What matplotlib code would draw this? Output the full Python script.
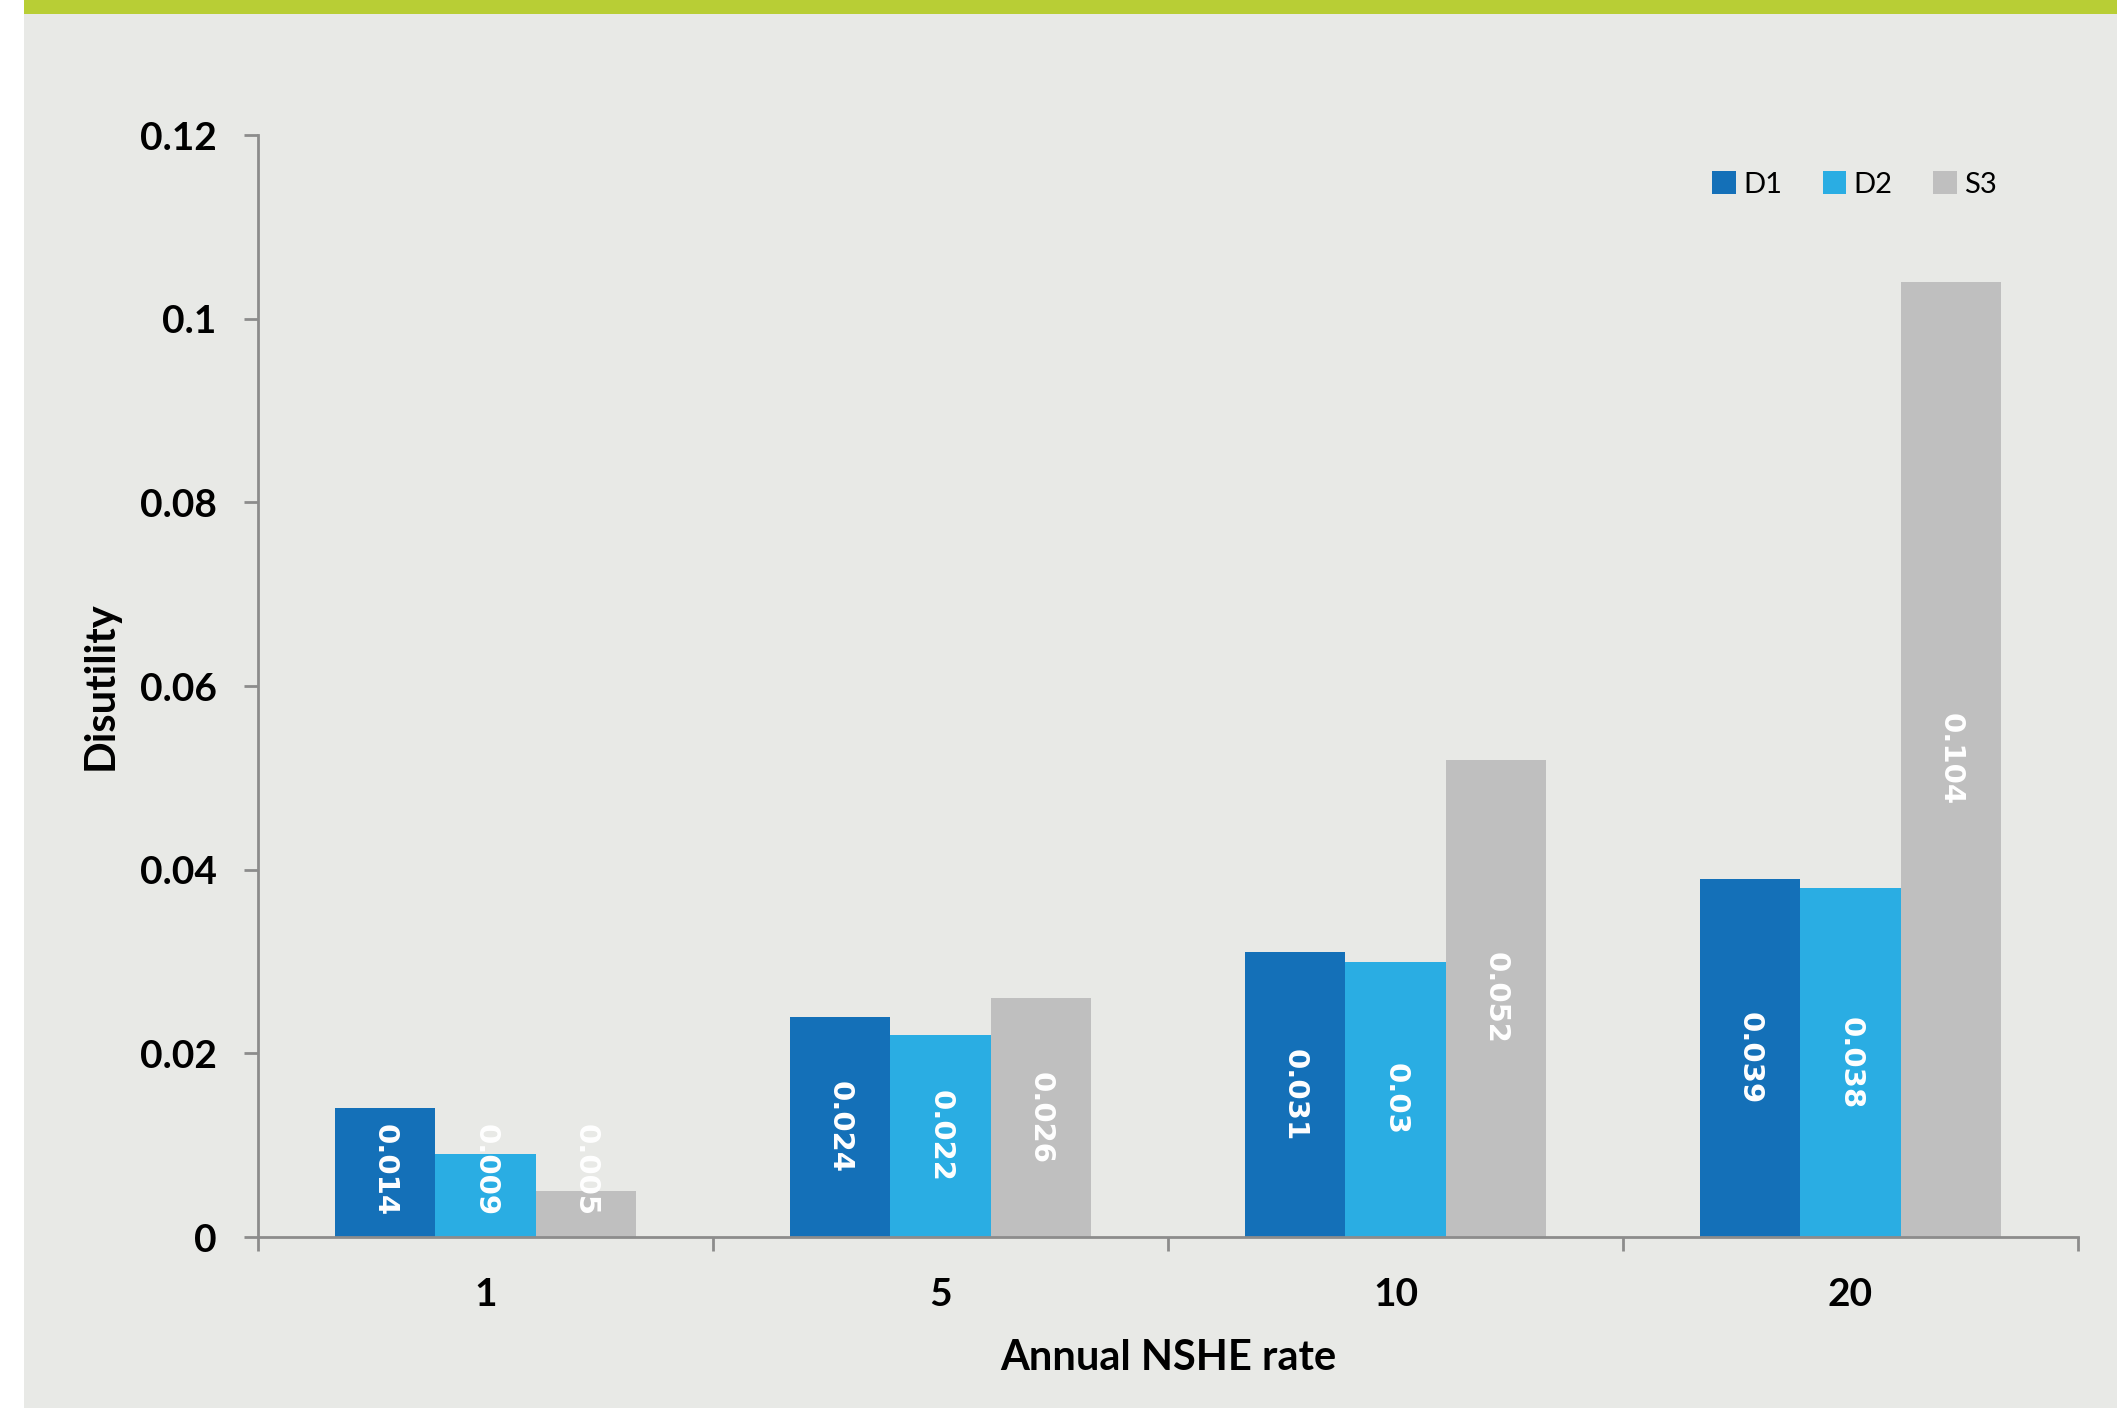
import numpy as np
import matplotlib.pyplot as plt
from matplotlib.patches import Rectangle

# Disutility by annual NSHE rate
rates = ["1", "5", "10", "20"]
d1 = [0.014, 0.024, 0.031, 0.039]
d2 = [0.009, 0.022, 0.03, 0.038]
s3 = [0.005, 0.026, 0.052, 0.104]
series_names = ["D1", "D2", "S3"]
colors = ["#1470B8", "#2AADE3", "#BFBFBF"]
y_ticks = [0, 0.02, 0.04, 0.06, 0.08, 0.1, 0.12]
y_tick_labels = ["0", "0.02", "0.04", "0.06", "0.08", "0.1", "0.12"]

panel_color = "#E8E9E6"
axis_color = "#8C8C8C"

plt.rcParams["font.family"] = ["Lato", "DejaVu Sans"]

fig = plt.figure(figsize=(21.17, 14.08), dpi=100, facecolor="white")

# grey panel with a green strip along the top, kept behind the axes
fig.patches.append(Rectangle((24 / 2117, 0), 1, 1, transform=fig.transFigure,
                             facecolor=panel_color, edgecolor="none", zorder=-10))
fig.patches.append(Rectangle((24 / 2117, 1 - 14 / 1408), 1, 14 / 1408,
                             transform=fig.transFigure, facecolor="#B8CE35",
                             edgecolor="none", zorder=-9))

ax = fig.add_axes([0.1219, 0.1214, 0.9816 - 0.1219, 0.9041 - 0.1214])
ax.set_facecolor("none")

x = np.arange(len(rates))
width = 0.221
for i, (vals, name, col) in enumerate(zip([d1, d2, s3], series_names, colors)):
    pos = x + (i - 1) * width
    ax.bar(pos, vals, width, color=col, label=name, edgecolor="none", zorder=2)
    for px, v in zip(pos, vals):
        ax.text(px, max(v / 2, 0.0073), str(v), rotation=270, ha="center",
                va="center", color="white", fontsize=21, fontweight="bold",
                family="DejaVu Sans", zorder=3)

ax.set_xlim(-0.5, len(rates) - 0.5)
ax.set_ylim(0, 0.12)

for side in ["top", "right"]:
    ax.spines[side].set_visible(False)
for side in ["left", "bottom"]:
    ax.spines[side].set_color(axis_color)
    ax.spines[side].set_linewidth(2)

ax.set_yticks(y_ticks)
ax.set_yticklabels(y_tick_labels, fontsize=28, fontweight="bold")
ax.tick_params(axis="y", direction="out", length=10, width=2,
               color=axis_color, pad=20)

# ticks at the group boundaries, labels at group centres
ax.set_xticks(np.arange(len(rates) + 1) - 0.5)
ax.set_xticklabels([])
ax.set_xticks(x, minor=True)
ax.set_xticklabels(rates, minor=True, fontsize=28, fontweight="bold")
ax.tick_params(axis="x", which="major", direction="out", length=10, width=2,
               color=axis_color)
ax.tick_params(axis="x", which="minor", length=0, pad=29)

ax.set_ylabel("Disutility", fontsize=30, fontweight="bold", labelpad=14)
ax.set_xlabel("Annual NSHE rate", fontsize=30, fontweight="bold", labelpad=19)

ax.legend(loc="center", bbox_to_anchor=(0.876, 0.869),
          bbox_transform=fig.transFigure, ncol=3, frameon=False, fontsize=21,
          handlelength=0.8, handleheight=0.8, handletextpad=0.25,
          columnspacing=1.4)

fig.savefig("out.png", dpi=100, facecolor=fig.get_facecolor())
